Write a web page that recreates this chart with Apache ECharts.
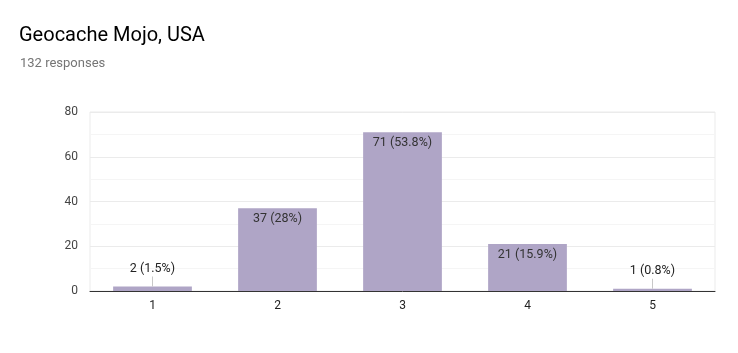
<!DOCTYPE html>
<html>
<head>
<meta charset="utf-8">
<script src="https://cdn.jsdelivr.net/npm/echarts@6/dist/echarts.min.js"></script>
<style>
  html, body { margin: 0; padding: 0; background: #fff; }
  #chart { width: 738px; height: 353px; }
</style>
</head>
<body>
<div id="chart"></div>
<script>
  // 数据
  var categories = ['1', '2', '3', '4', '5']
  var counts = [2, 37, 71, 21, 1]
  var percents = ['1.5%', '28%', '53.8%', '15.9%', '0.8%']
  var yTicks = [0, 20, 40, 60, 80]

  var barColor = '#afa5c6'

  var seriesData = counts.map(function (v, i) {
    var text = v + ' (' + percents[i] + ')'
    if (v < 5) {
      // 小柱子: 标签在上方, 带一条引线
      return {
        value: v,
        label: {
          show: true,
          position: 'top',
          distance: 0,
          formatter: '{t|' + text + '}\n{l|}',
          rich: {
            t: { fontSize: 12.5, color: '#222', fontFamily: 'Roboto, Arial', padding: [0, 0, 1, 0] },
            l: { width: 1, height: 10, backgroundColor: '#c8c8c8' }
          }
        }
      }
    }
    return {
      value: v,
      label: {
        show: true,
        position: 'insideTop',
        distance: 4,
        formatter: text,
        fontSize: 12.5,
        color: '#333',
        fontFamily: 'Roboto, Arial'
      }
    }
  })

  var chart = echarts.init(document.getElementById('chart'))
  chart.setOption({
    animation: false,
    title: [
      {
        text: 'Geocache Mojo, USA',
        left: 19,
        top: 26,
        padding: 0,
        textStyle: { fontSize: 20, fontWeight: 'normal', color: '#000', fontFamily: 'Roboto, Arial' }
      },
      {
        text: '132 responses',
        left: 20,
        top: 57,
        padding: 0,
        textStyle: { fontSize: 13, fontWeight: 'normal', color: '#757575', fontFamily: 'Roboto, Arial' }
      }
    ],
    grid: {
      left: 90,
      right: 23,
      top: 112,
      bottom: 62,
      show: true,
      borderColor: '#ebebeb',
      borderWidth: 1
    },
    xAxis: {
      type: 'category',
      data: categories,
      axisLine: { lineStyle: { color: '#333', width: 1 } },
      axisTick: { show: false },
      axisLabel: { fontSize: 12, color: '#222', margin: 9, fontFamily: 'Roboto, Arial' }
    },
    yAxis: {
      type: 'value',
      min: yTicks[0],
      max: yTicks[yTicks.length - 1],
      interval: 20,
      axisLine: { show: false },
      axisTick: { show: false },
      axisLabel: { fontSize: 12, color: '#444', margin: 12, fontFamily: 'Roboto, Arial' },
      splitLine: { lineStyle: { color: '#ebebeb' } },
      minorTick: { show: false, splitNumber: 2 },
      minorSplitLine: { show: true, lineStyle: { color: '#f5f5f5' } }
    },
    series: [
      {
        type: 'bar',
        data: seriesData,
        barWidth: '63%',
        itemStyle: { color: barColor }
      }
    ]
  })
</script>
</body>
</html>
